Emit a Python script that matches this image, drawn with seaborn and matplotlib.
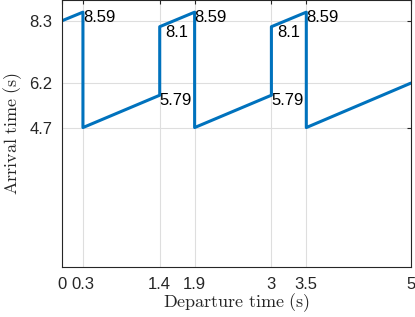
import matplotlib
matplotlib.use("Agg")
import matplotlib.pyplot as plt
import pandas as pd
import seaborn as sns

# Data
departure = [0, 0.3, 0.3, 1.4, 1.4, 1.9, 1.9, 3, 3, 3.5, 3.5, 5]
arrival = [8.3, 8.59, 4.7, 5.79, 8.1, 8.59, 4.7, 5.79, 8.1, 8.59, 4.7, 6.2]

x_ticks = [0, 0.3, 1.4, 1.9, 3, 3.5, 5]
x_tick_labels = ["0", "0.3", "1.4", "1.9", "3", "3.5", "5"]
y_ticks = [4.7, 6.2, 8.3]
y_tick_labels = ["4.7", "6.2", "8.3"]

label_x = [0.3, 1.4, 1.4, 1.9, 3, 3, 3.5]
label_y = [8.59, 8.1, 5.79, 8.59, 8.1, 5.79, 8.59]
label_text = ["8.59", "8.1", "5.79", "8.59", "8.1", "5.79", "8.59"]
label_dx = [0, 4, 0, 0, 4, 0, 0]

df = pd.DataFrame({"departure": departure, "arrival": arrival})

sns.set_style("white")
plt.rcParams["font.family"] = ["Liberation Sans", "DejaVu Sans"]
plt.rcParams["mathtext.fontset"] = "cm"

fig = plt.figure(figsize=(4.15, 3.17), dpi=100)
ax = fig.add_axes([62 / 415, 50 / 317, 349 / 415, 267 / 317])

sns.lineplot(data=df, x="departure", y="arrival", sort=False, estimator=None,
             color="#0072BD", linewidth=2.2, ax=ax)

for x, y, t, dx in zip(label_x, label_y, label_text, label_dx):
    ax.annotate(t, (x, y), xytext=(dx, -4), textcoords="offset points",
                ha="left", va="center", fontsize=12, color="black")

ax.set_xlim(0, 5)
ax.set_ylim(0, 9)
ax.set_xticks(x_ticks)
ax.set_xticklabels(x_tick_labels)
ax.set_yticks(y_ticks)
ax.set_yticklabels(y_tick_labels)
ax.grid(True, color="#dedede", linewidth=0.8)
ax.tick_params(direction="in", length=3, labelsize=12, colors="#262626",
               right=True, top=True)
ax.tick_params(axis="x", pad=7)
ax.tick_params(axis="y", pad=7)
for s in ax.spines.values():
    s.set_color("#262626")
    s.set_linewidth(0.8)

ax.set_xlabel(r"$\mathrm{Departure\ time\ (s)}$", fontsize=13, labelpad=0)
ax.set_ylabel(r"$\mathrm{Arrival\ time\ (s)}$", fontsize=13, labelpad=4)

fig.savefig("out.png", dpi=100)
